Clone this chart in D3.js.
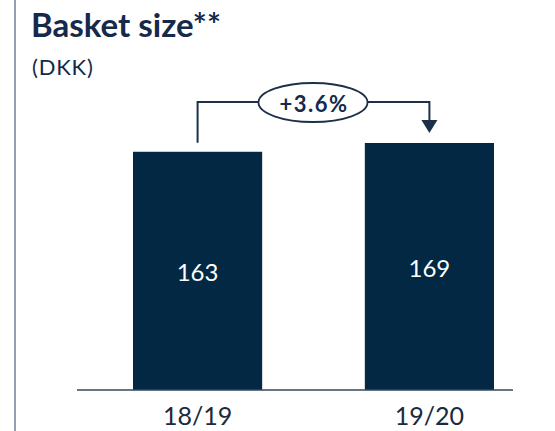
<!DOCTYPE html>
<html><head><meta charset="utf-8">
<script src="https://cdn.jsdelivr.net/npm/d3@7"></script>
<style>body{margin:0;background:#fff;}svg{display:block;}</style>
</head><body>
<script>
const categories = ["18/19", "19/20"];
const values = [163, 169];
const changeLabel = "+3.6%";
const title = "Basket size**";
const subtitle = "(DKK)";

const W = 555, H = 431;
const navy = "#022843";
const font = "Lato, 'Open Sans', sans-serif";
const svg = d3.select("body").append("svg").attr("width", W).attr("height", H);

// left border line
svg.append("line").attr("x1", 15).attr("x2", 15).attr("y1", 0).attr("y2", H)
  .attr("stroke", "#6d7f93").attr("stroke-width", 1.5);

svg.append("text").attr("x", 31).attr("y", 37).text(title)
  .attr("font-family", font).attr("font-weight", 700)
  .attr("font-size", 33).attr("fill", "#15294a");
svg.append("text").attr("x", 32).attr("y", 75).text(subtitle)
  .attr("font-family", font).attr("letter-spacing", 0.8)
  .attr("font-size", 22).attr("fill", "#15294a");

const baseY = 390;
const x = d3.scaleBand().domain(categories).range([133, 494]).paddingInner(0.4428).paddingOuter(0);
const y = d3.scaleLinear().domain([0, 169]).range([baseY, 143]);

// bars
svg.selectAll("rect.bar").data(values).join("rect").attr("class", "bar")
  .attr("x", (d, i) => x(categories[i]))
  .attr("width", x.bandwidth())
  .attr("y", d => y(d))
  .attr("height", d => baseY - y(d))
  .attr("fill", navy);

// axis line
svg.append("line").attr("x1", 77).attr("x2", 513).attr("y1", baseY).attr("y2", baseY)
  .attr("stroke", "#34495e").attr("stroke-width", 1.5);

// value labels
svg.selectAll("text.val").data(values).join("text").attr("class", "val")
  .attr("x", (d, i) => x(categories[i]) + x.bandwidth() / 2)
  .attr("y", d => (y(d) + baseY) / 2 + 10)
  .attr("text-anchor", "middle").attr("fill", "#fff")
  .attr("font-family", font).attr("font-size", 24)
  .text(d => d);

// category labels
svg.selectAll("text.cat").data(categories).join("text").attr("class", "cat")
  .attr("x", d => x(d) + x.bandwidth() / 2)
  .attr("y", 425)
  .attr("text-anchor", "middle").attr("fill", "#1b2a3d")
  .attr("font-family", font).attr("font-size", 25)
  .text(d => d);

// change annotation
const cx0 = x(categories[0]) + x.bandwidth() / 2;
const cx1 = x(categories[1]) + x.bandwidth() / 2;
const lineY = 102;
const ex = (cx0 + cx1) / 2 - 0.5, rx = 54.5, ry = 19.5;
const stroke = "#1c3049";
svg.append("path")
  .attr("d", `M${cx0},${y(values[0]) - 9}V${lineY}H${ex - rx}`)
  .attr("fill", "none").attr("stroke", stroke).attr("stroke-width", 2);
svg.append("path")
  .attr("d", `M${ex + rx},${lineY}H${cx1}V${121}`)
  .attr("fill", "none").attr("stroke", stroke).attr("stroke-width", 2);
svg.append("path")
  .attr("d", `M${cx1 - 8},${120}L${cx1 + 8},${120}L${cx1},${133}Z`)
  .attr("fill", stroke);
svg.append("ellipse").attr("cx", ex).attr("cy", lineY + 0.5).attr("rx", rx).attr("ry", ry)
  .attr("fill", "#fff").attr("stroke", stroke).attr("stroke-width", 1.8);
svg.append("text").attr("x", ex + 1).attr("y", lineY + 10).attr("text-anchor", "middle")
  .attr("font-family", font).attr("font-weight", 700).attr("letter-spacing", 1.5)
  .attr("font-size", 22).attr("fill", "#15294a").text(changeLabel);
</script>
</body></html>
